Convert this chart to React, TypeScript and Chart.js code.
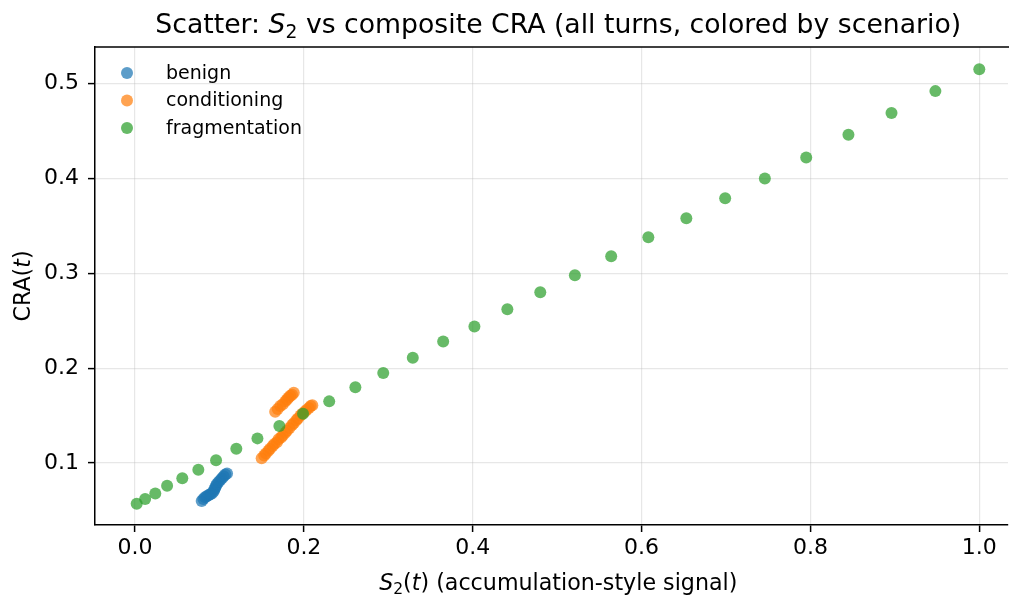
import React, { useEffect, useRef } from "react";
import { Chart, registerables } from "chart.js";

Chart.register(...registerables);

const seriesNames = ["benign", "conditioning", "fragmentation"];
const seriesColors = [
  "rgba(31,119,180,0.72)",
  "rgba(255,127,14,0.72)",
  "rgba(44,160,44,0.72)",
];

const benignX = [0.079, 0.081, 0.083, 0.085, 0.087, 0.089, 0.091, 0.093, 0.094, 0.095, 0.096, 0.097, 0.099, 0.101, 0.103, 0.105, 0.107, 0.109];
const benignY = [0.060, 0.062, 0.064, 0.065, 0.066, 0.067, 0.068, 0.070, 0.072, 0.074, 0.076, 0.078, 0.080, 0.082, 0.084, 0.086, 0.088, 0.089];

const conditioningX = [
  0.150, 0.153, 0.155, 0.158, 0.160, 0.163, 0.165, 0.168, 0.170, 0.173, 0.175, 0.178, 0.180,
  0.183, 0.186, 0.188, 0.191, 0.193, 0.196, 0.198, 0.201, 0.203, 0.206, 0.208, 0.210,
  0.166, 0.169, 0.172, 0.175, 0.178, 0.180, 0.182, 0.184, 0.186, 0.188,
];
const conditioningY = [
  0.105, 0.108, 0.110, 0.113, 0.115, 0.118, 0.120, 0.122, 0.125, 0.127, 0.129, 0.132, 0.134,
  0.137, 0.140, 0.142, 0.145, 0.147, 0.150, 0.152, 0.154, 0.156, 0.158, 0.160, 0.161,
  0.154, 0.157, 0.160, 0.162, 0.165, 0.167, 0.169, 0.171, 0.172, 0.174,
];

const fragmentationX = [
  0.002, 0.012, 0.024, 0.038, 0.056, 0.075, 0.096, 0.120, 0.145, 0.171, 0.199, 0.230, 0.261,
  0.294, 0.329, 0.365, 0.402, 0.441, 0.480, 0.521, 0.564, 0.608, 0.653, 0.699, 0.746, 0.795,
  0.845, 0.896, 0.948, 1.000,
];
const fragmentationY = [
  0.057, 0.062, 0.068, 0.076, 0.084, 0.093, 0.103, 0.115, 0.126, 0.139, 0.152, 0.165, 0.180,
  0.195, 0.211, 0.228, 0.244, 0.262, 0.280, 0.298, 0.318, 0.338, 0.358, 0.379, 0.400, 0.422,
  0.446, 0.469, 0.492, 0.515,
];

const xTickStep = 0.2;
const yTickStep = 0.1;
const xMin = -0.0474;
const xMax = 1.034;
const xFullMax = 1.05; // matplotlib axis right edge (beyond the cropped figure)
const yMin = 0.0347;
const yMax = 0.5385;

const FONT = '"DejaVu Sans"';

type Seg = { text: string; italic?: boolean; sub?: boolean };

function drawRich(ctx: CanvasRenderingContext2D, segs: Seg[], x: number, y: number, size: number) {
  let total = 0;
  const parts = segs.map((s) => {
    const fs = s.sub ? size * 0.7 : size;
    const font = `${s.italic ? "italic " : ""}${fs}px ${FONT}`;
    ctx.font = font;
    const w = ctx.measureText(s.text).width;
    total += w;
    return { ...s, font, w };
  });
  let cx = x - total / 2;
  for (const p of parts) {
    ctx.font = p.font;
    ctx.fillText(p.text, cx, y + (p.sub ? size * 0.2 : 0));
    cx += p.w;
  }
}

const decorPlugin = {
  id: "decor",
  afterDraw(chart: any) {
    const ctx: CanvasRenderingContext2D = chart.ctx;
    const area = chart.chartArea;
    const xs = chart.scales.x;
    ctx.save();
    // top spine
    ctx.strokeStyle = "#000";
    ctx.lineWidth = 1.5;
    ctx.beginPath();
    ctx.moveTo(area.left - 0.75, area.top);
    ctx.lineTo(chart.width, area.top);
    ctx.stroke();

    ctx.fillStyle = "#000";
    ctx.textAlign = "left";
    ctx.textBaseline = "alphabetic";
    const cx = (area.left + xs.getPixelForValue(xFullMax)) / 2;
    drawRich(ctx, [
      { text: "Scatter: " },
      { text: "S", italic: true },
      { text: "2", sub: true },
      { text: " vs composite CRA (all turns, colored by scenario)" },
    ], cx, 33, 26.7);

    drawRich(ctx, [
      { text: "S", italic: true },
      { text: "2", sub: true },
      { text: "(" },
      { text: "t", italic: true },
      { text: ") (accumulation-style signal)" },
    ], cx, 590, 22.2);

    ctx.save();
    ctx.translate(30, (area.top + area.bottom) / 2);
    ctx.rotate(-Math.PI / 2);
    drawRich(ctx, [{ text: "CRA(" }, { text: "t", italic: true }, { text: ")" }], 0, 0, 22.2);
    ctx.restore();

    // legend (inside axes, upper left)
    ctx.textBaseline = "middle";
    ctx.font = `19px ${FONT}`;
    chart.data.datasets.forEach((ds: any, i: number) => {
      const y = 73 + i * 27.5;
      ctx.fillStyle = ds.backgroundColor;
      ctx.beginPath();
      ctx.arc(127, y, 6, 0, Math.PI * 2);
      ctx.fill();
      ctx.fillStyle = "#000";
      ctx.fillText(ds.label, 166, y + 1);
    });
    ctx.restore();
  },
};

function toPoints(xs: number[], ys: number[]) {
  return xs.map((x, i) => ({ x, y: ys[i] }));
}

export default function App() {
  const ref = useRef<HTMLCanvasElement | null>(null);
  useEffect(() => {
    if (!ref.current) return;
    Chart.defaults.font.family = FONT;
    const mk = (i: number, xs: number[], ys: number[], order: number) => ({
      label: seriesNames[i],
      data: toPoints(xs, ys),
      backgroundColor: seriesColors[i],
      borderWidth: 0,
      pointRadius: 6,
      pointHoverRadius: 6,
      order,
    });
    const gridOpts = {
      color: "rgba(176,176,176,0.3)",
      lineWidth: 1.2,
      tickColor: "#000",
      tickWidth: 1.5,
      tickLength: 7,
    };
    const chart = new Chart(ref.current, {
      type: "scatter",
      data: {
        datasets: [
          mk(0, benignX, benignY, 2),
          mk(1, conditioningX, conditioningY, 1),
          mk(2, fragmentationX, fragmentationY, 0),
        ],
      },
      plugins: [decorPlugin],
      options: {
        animation: false,
        responsive: false,
        devicePixelRatio: 1,
        layout: { autoPadding: false, padding: { top: 47, left: 0, right: 1, bottom: 0 } },
        plugins: {
          legend: { display: false },
          title: { display: false },
          tooltip: { enabled: false },
        },
        scales: {
          x: {
            type: "linear",
            min: xMin,
            max: xMax,
            afterFit(scale: any) {
              scale.height = 70;
              scale.paddingLeft = 0;
              scale.paddingRight = 0;
            },
            ticks: {
              stepSize: xTickStep,
              includeBounds: false,
              color: "#000",
              font: { size: 22, family: FONT },
              padding: 3,
              maxRotation: 0,
              callback: (v: any) => Number(v).toFixed(1),
            },
            grid: gridOpts,
            border: { display: true, color: "#000", width: 1.5 },
          },
          y: {
            type: "linear",
            min: yMin,
            max: yMax,
            afterFit(scale: any) {
              scale.width = 95;
              scale.paddingTop = 0;
              scale.paddingBottom = 0;
            },
            ticks: {
              stepSize: yTickStep,
              includeBounds: false,
              color: "#000",
              font: { size: 22, family: FONT },
              padding: 9,
              callback: (v: any) => Number(v).toFixed(1),
            },
            grid: gridOpts,
            border: { display: true, color: "#000", width: 1.5 },
          },
        },
      },
    } as any);
    return () => chart.destroy();
  }, []);
  return (
    <div style={{ position: "absolute", left: 0, top: 0, width: 1009, height: 595, background: "#fff" }}>
      <canvas ref={ref} width={1009} height={595} style={{ display: "block" }} />
    </div>
  );
}
